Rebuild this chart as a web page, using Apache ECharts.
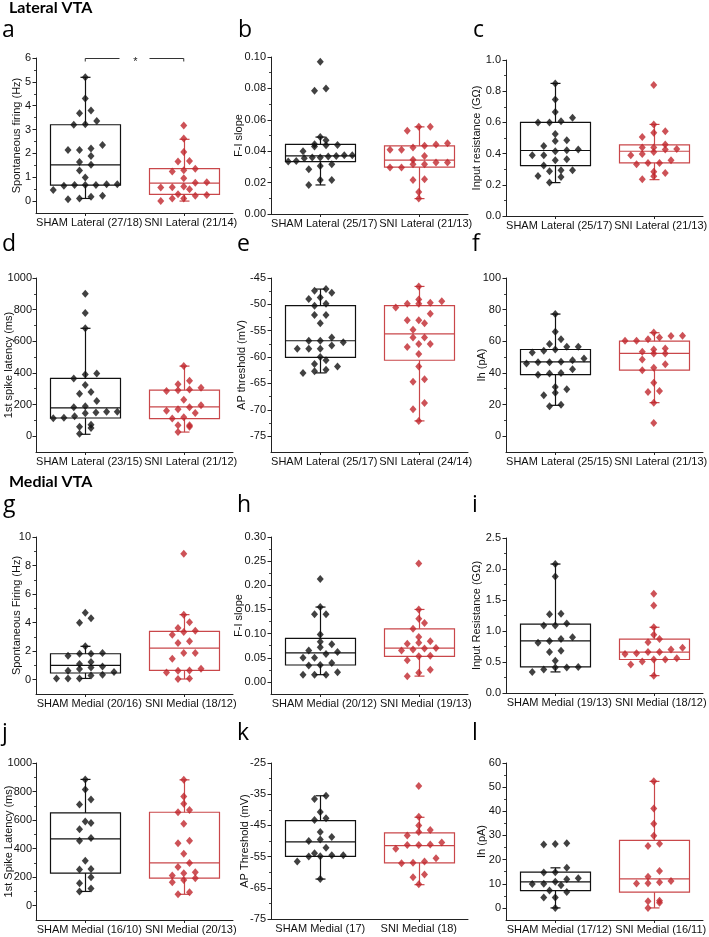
<!DOCTYPE html>
<html><head><meta charset="utf-8">
<script src="https://cdn.jsdelivr.net/npm/echarts@6/dist/echarts.min.js"></script>
<style>html,body{margin:0;padding:0;background:#fff}#c{width:709px;height:937px}</style>
</head><body><div id="c"></div>
<script>
// ---------------- DATA ----------------
const aCats = ['SHAM Lateral (27/18)', 'SNI Lateral (21/14)'];
const aTicks = [0, 1, 2, 3, 4, 5, 6];
const aSham = [5.19,4.30,3.80,3.68,3.36,3.22,3.20,2.35,2.14,2.14,2.20,1.89,1.64,1.52,1.28,0.99,0.67,0.71,0.67,0.71,0.67,0.64,0.22,0.46,0.18,0.08,0.11];
const aShamBox = [0.11, 0.67, 1.52, 3.20, 5.19];   // whisker low, Q1, median, Q3, whisker high
const aSni = [3.17,2.62,2.06,1.68,1.66,1.29,1.24,1.36,0.96,0.79,0.77,0.61,0.57,0.50,0.58,0.22,0.11,0.11,0.25,0.29,0.0];
const aSniBox = [0.0, 0.28, 0.75, 1.36, 2.59];
const aSig = [[0.5, 1.5, 6, '*']];

const bCats = ['SHAM Lateral (25/17)', 'SNI Lateral (21/13)'];
const bTicks = [0, 0.02, 0.04, 0.06, 0.08, 0.10];
const bSham = [0.097,0.080,0.0785,0.049,0.0438,0.0445,0.044,0.047,0.043,0.040,0.037,0.0374,0.036,0.0338,0.036,0.0355,0.0374,0.0366,0.0334,0.0317,0.0306,0.0285,0.0217,0.0217,0.0185];
const bShamBox = [0.0185, 0.0334, 0.037, 0.0443, 0.049];
const bSni = [0.0555,0.0555,0.053,0.045,0.0443,0.0423,0.0434,0.0409,0.0409,0.037,0.0345,0.0317,0.0328,0.0328,0.0317,0.0296,0.0296,0.0221,0.0217,0.014,0.0098];
const bSniBox = [0.0098, 0.0298, 0.0343, 0.0434, 0.0555];

const cCats = ['SHAM Lateral (25/17)', 'SNI Lateral (21/13)'];
const cTicks = [0, 0.2, 0.4, 0.6, 0.8, 1.0];
const cSham = [0.85,0.747,0.60,0.60,0.608,0.666,0.63,0.525,0.48,0.486,0.448,0.426,0.422,0.415,0.39,0.39,0.364,0.358,0.323,0.287,0.293,0.293,0.257,0.25,0.214];
const cShamBox = [0.214, 0.323, 0.42, 0.60, 0.85];
const cSni = [0.84,0.587,0.544,0.507,0.533,0.458,0.439,0.411,0.43,0.439,0.426,0.398,0.39,0.358,0.332,0.34,0.34,0.276,0.283,0.255,0.236];
const cSniBox = [0.233, 0.34, 0.415, 0.456, 0.587];

const dCats = ['SHAM Lateral (23/15)', 'SNI Lateral (21/12)'];
const dTicks = [0, 200, 400, 600, 800, 1000];
const dSham = [900,778,682,390,397,365,323,280,268,223,190,183,145,154,149,154,126,117,113,60,73,52,16];
const dShamBox = [12, 115, 179, 365, 682];
const dSni = [443,350,329,306,285,295,291,230,160,170,183,196,147,111,120,26,69,69,60];
const dSniBox = [26, 111, 185, 291, 443];

const eCats = ['SHAM Lateral (25/17)', 'SNI Lateral (24/14)'];
const eTicks = [-75, -70, -65, -60, -55, -50, -45];
const eSham = [-47.8,-47.4,-47.1,-48.7,-49.0,-49.9,-50.25,-52.0,-52.0,-53.6,-56.9,-56.3,-56.9,-57.2,-57.8,-58.4,-58.4,-58.4,-60.0,-60.6,-61.3,-61.8,-62.7,-62.4,-63.0];
const eShamBox = [-63.0, -60.06, -56.9, -50.25, -47.1];
const eSni = [-46.6,-49.4,-49.9,-49.1,-50.6,-49.7,-49.9,-51.8,-53.0,-53.0,-53.6,-54.8,-56.3,-56.3,-58.1,-57.5,-57.5,-59.4,-61.8,-64.7,-64.2,-68.7,-69.9,-72.1];
const eSniBox = [-72.1, -60.6, -55.6, -50.25, -46.6];

const fCats = ['SHAM Lateral (25/15)', 'SNI Lateral (21/13)'];
const fTicks = [0, 20, 40, 60, 80, 100];
const fSham = [77.2,66,58.2,61.2,54,56.5,54.8,56.5,49.1,52.9,46.8,46.8,45.9,47,48,42.3,38.9,40,39.6,29.6,27.5,31.1,25.8,19.9,19];
const fShamBox = [19.5, 38.9, 47, 54.8, 77.2];
const fSni = [61.2,63.5,60.3,62.4,65.6,60.3,63.3,53.3,54.8,52.3,55.4,52.3,48.5,45.5,43.2,41.7,33.7,27.9,28.6,21.2,8.3];
const fSniBox = [21.2, 41.7, 52.3, 60.1, 65.4];

const gCats = ['SHAM Medial (20/16)', 'SNI Medial (18/12)'];
const gTicks = [0, 2, 4, 6, 8, 10];
const gSham = [4.0,4.3,4.7,2.34,1.82,1.68,1.87,1.82,1.24,0.93,1.1,0.86,0.75,0.3,0.54,0.35,0.63,0.09,0.09,0.09];
const gShamBox = [0.09, 0.47, 1.0, 1.82, 2.34];
const gSni = [8.83,4.56,4.02,3.43,3.62,3.34,3.15,2.57,2.69,1.87,1.87,1.47,0.65,0.51,0.63,0.77,0.05,0.09];
const gSniBox = [0.05, 0.65, 2.22, 3.39, 4.56];

const hCats = ['SHAM Medial (20/12)', 'SNI Medial (19/13)'];
const hTicks = [0, 0.05, 0.10, 0.15, 0.20, 0.25, 0.30];
const hSham = [0.213,0.155,0.14,0.14,0.098,0.083,0.078,0.072,0.065,0.062,0.058,0.05,0.05,0.039,0.035,0.034,0.02,0.015,0.015,0.015];
const hShamBox = [0.015, 0.035, 0.06, 0.09, 0.155];
const hSni = [0.245,0.15,0.131,0.122,0.11,0.093,0.079,0.081,0.084,0.07,0.065,0.067,0.069,0.053,0.054,0.045,0.025,0.019,0.012];
const hSniBox = [0.012, 0.053, 0.07, 0.11, 0.15];

const iCats = ['SHAM Medial (19/13)', 'SNI Medial (18/12)'];
const iTicks = [0, 0.5, 1.0, 1.5, 2.0, 2.5];
const iSham = [2.08,1.88,1.28,1.27,1.12,1.09,1.09,0.9,0.87,0.84,0.81,0.68,0.66,0.52,0.42,0.41,0.41,0.38,0.34];
const iShamBox = [0.34, 0.42, 0.84, 1.11, 2.08];
const iSni = [1.6,1.41,1.06,0.94,0.87,0.82,0.73,0.7,0.66,0.66,0.64,0.63,0.56,0.54,0.54,0.51,0.46,0.28];
const iSniBox = [0.28, 0.54, 0.66, 0.87, 1.06];

const jCats = ['SHAM Medial (16/10)', 'SNI Medial (20/13)'];
const jTicks = [0, 200, 400, 600, 800, 1000];
const jSham = [885,815,745,710,590,580,535,475,455,315,258,253,200,158,120,100];
const jShamBox = [100, 228, 468, 650, 885];
const jSni = [882,765,715,670,655,575,455,438,365,300,272,235,228,212,193,180,165,95,80];
const jSniBox = [80, 193, 300, 655, 882];

const kCats = ['SHAM Medial (17)', 'SNI Medial (18)'];
const kTicks = [-75, -65, -55, -45, -35, -25];
const kSham = [-35.5,-36.5,-40.7,-42.7,-43.3,-47.1,-48.7,-49.5,-50,-52.2,-53.9,-54.6,-55,-54.9,-54.6,-56.6,-62.2];
const kShamBox = [-62.2, -54.9, -50.3, -43.5, -35.5];
const kSni = [-32.4,-42.2,-45,-46.5,-47.1,-48.2,-50.5,-51.1,-51.3,-51.3,-52.5,-55.5,-56.6,-57,-57.1,-60.7,-61.6,-63.9];
const kSniBox = [-64, -57, -51.5, -47.4, -42.4];

const lCats = ['SHAM Medial (17/12)', 'SNI Medial (16/11)'];
const lTicks = [0, 10, 20, 30, 40, 50, 60];
const lSham = [26.5,26.8,26.3,16.6,14.7,14.8,12.3,11.9,10.8,10,9.4,9.9,7.2,6.6,4.3,4.3,0];
const lShamBox = [0, 7.2, 10.8, 14.8, 16.6];
const lSni = [52.4,41.2,34.8,29.9,26.6,25.6,15.3,12.9,11.1,10.2,10.6,10.1,3,2.1,2.8,0];
const lSniBox = [0, 6.5, 12, 28, 52.4];

// ---------------- LAYOUT ----------------
const panels = [
  {cats:aCats, ticks:aTicks, sham:aSham, shamBox:aShamBox, sni:aSni, sniBox:aSniBox, dec:0, min:-0.5, max:6,   name:'Spontaneous firing (Hz)', g:[36,58,197,155],  gap:13.5, lm:5, ls:[4,7]},
  {cats:bCats, ticks:bTicks, sham:bSham, shamBox:bShamBox, sni:bSni, sniBox:bSniBox, dec:2, min:0, max:0.1,    name:'F-I slope',               g:[271,57,197,157], gap:27, lm:5, ls:[4,7]},
  {cats:cCats, ticks:cTicks, sham:cSham, shamBox:cShamBox, sni:cSni, sniBox:cSniBox, dec:1, min:0, max:1,      name:'Input resistance (G\u03A9)', g:[506,60,197,156], gap:23.5, lm:5, ls:[4,7]},
  {cats:dCats, ticks:dTicks, sham:dSham, shamBox:dShamBox, sni:dSni, sniBox:dSniBox, dec:0, min:-100, max:1000, name:'1st spike latency (ms)', g:[36,278,197,174], gap:21.5, lm:4, ls:[4,7]},
  {cats:eCats, ticks:eTicks, sham:eSham, shamBox:eShamBox, sni:eSni, sniBox:eSniBox, dec:0, min:-78, max:-45,  name:'AP threshold (mV)',       g:[271,278,197,174], gap:23.5, lm:5, ls:[4,7]},
  {cats:fCats, ticks:fTicks, sham:fSham, shamBox:fShamBox, sni:fSni, sniBox:fSniBox, dec:0, min:-10, max:100,  name:'Ih (pA)',                 g:[506,278,197,174], gap:18.5, lm:5, ls:[4,7]},
  {cats:gCats, ticks:gTicks, sham:gSham, shamBox:gShamBox, sni:gSni, sniBox:gSniBox, dec:0, min:-1, max:10,    name:'Spontaneous Firing (Hz)', g:[36,537,197,157], gap:13.5, lm:5, ls:[4,7]},
  {cats:hCats, ticks:hTicks, sham:hSham, shamBox:hShamBox, sni:hSni, sniBox:hSniBox, dec:2, min:-0.025, max:0.3, name:'F-I slope',             g:[271,537,197,157], gap:27, lm:5, ls:[4,7]},
  {cats:iCats, ticks:iTicks, sham:iSham, shamBox:iShamBox, sni:iSni, sniBox:iSniBox, dec:1, min:0, max:2.5,    name:'Input Resistance (G\u03A9)', g:[506,538,197,155], gap:23.5, lm:5, ls:[4,7]},
  {cats:jCats, ticks:jTicks, sham:jSham, shamBox:jShamBox, sni:jSni, sniBox:jSniBox, dec:0, min:-100, max:1000, name:'1st Spike Latency (ms)', g:[36,763,197,157], gap:21.5, lm:4, ls:[4,7]},
  {cats:kCats, ticks:kTicks, sham:kSham, shamBox:kShamBox, sni:kSni, sniBox:kSniBox, dec:0, min:-75, max:-25,  name:'AP Threshold (mV)',       g:[271,763,197,156], gap:20.5, lm:5, ls:[0,0]},
  {cats:lCats, ticks:lTicks, sham:lSham, shamBox:lShamBox, sni:lSni, sniBox:lSniBox, dec:0, min:-5, max:60,    name:'Ih (pA)',                 g:[506,763,197,157], gap:18.5, lm:5, ls:[4,7]}
];
const letters = [
  ['a',2,30],['b',238,30],['c',473,30],
  ['d',2,244],['e',237,244],['f',472,244],
  ['g',3,505],['h',237,505],['i',472,505],
  ['j',2,733],['k',237,733],['l',472,733]
];
const SHAM_C = '#111111', SNI_C = '#c1272d', SNI_BOX = '#c9474a';
const HALF_W_PX = 35, CAP_PX = 5, FONT = '"Liberation Sans", Arial, sans-serif';

// beeswarm-like row layout (Origin style "data overlap")
function spread(values, center, p) {
  const ph = p.g[3] / (p.max - p.min), upx = 2 / p.g[2];
  const idx = values.map((v, i) => i).sort((a, b) => values[a] - values[b]);
  const groups = []; let cur = [], start = 0;
  idx.forEach(i => {
    const py = values[i] * ph;
    if (cur.length && py - start > 6.5) { groups.push(cur); cur = []; }
    if (!cur.length) start = py;
    cur.push(i);
  });
  if (cur.length) groups.push(cur);
  const out = [];
  groups.forEach(gr => {
    const n = gr.length;
    const s = n > 1 ? Math.min(11.5, (2 * HALF_W_PX - 6) / (n - 1)) : 0;
    gr.forEach((i, k) => out.push([center + (k - (n - 1) / 2) * s * upx, values[i]]));
  });
  return out;
}

function boxRender(color) {
  return function (params, api) {
    const x = api.value(0);
    const lo = api.coord([x, api.value(1)]), q1 = api.coord([x, api.value(2)]);
    const md = api.coord([x, api.value(3)]), q3 = api.coord([x, api.value(4)]);
    const hi = api.coord([x, api.value(5)]);
    const cx = Math.round(md[0]) + 0.5;
    const hw = HALF_W_PX, cw = CAP_PX;
    const st = {stroke: color, lineWidth: 1.2, fill: null};
    return {type: 'group', children: [
      {type: 'rect', shape: {x: cx - hw, y: q3[1], width: 2 * hw, height: q1[1] - q3[1]}, style: {stroke: color, lineWidth: 1.2, fill: 'rgba(0,0,0,0)'}},
      {type: 'line', shape: {x1: cx - hw, y1: md[1], x2: cx + hw, y2: md[1]}, style: st},
      {type: 'line', shape: {x1: cx, y1: q3[1], x2: cx, y2: hi[1]}, style: st},
      {type: 'line', shape: {x1: cx, y1: q1[1], x2: cx, y2: lo[1]}, style: st},
      {type: 'line', shape: {x1: cx - cw, y1: hi[1], x2: cx + cw, y2: hi[1]}, style: st},
      {type: 'line', shape: {x1: cx - cw, y1: lo[1], x2: cx + cw, y2: lo[1]}, style: st}
    ]};
  };
}

const option = {animation: false, textStyle: {fontFamily: FONT}, grid: [], xAxis: [], yAxis: [], series: [], graphic: []};

panels.forEach((p, i) => {
  const upx = 2 / p.g[2];
  const labPos = [0.5 + p.ls[0] * upx, 1.5 + p.ls[1] * upx];
  option.grid.push({left: p.g[0], top: p.g[1], width: p.g[2], height: p.g[3], containLabel: false, outerBoundsMode: 'none'});
  option.xAxis.push({
    gridIndex: i, type: 'value', min: 0, max: 2,
    axisLine: {show: true, onZero: false, lineStyle: {color: '#222', width: 1}},
    axisTick: {show: true, customValues: [0.5, 1.5], length: 3, lineStyle: {color: '#222'}},
    axisLabel: {customValues: labPos, formatter: v => p.cats[v < 1 ? 0 : 1], margin: 4, fontSize: 11, color: '#111', fontFamily: FONT, hideOverlap: false, showMinLabel: true, showMaxLabel: true},
    splitLine: {show: false}
  });
  const minors = [];
  for (let k = 0; k < p.ticks.length - 1; k++) minors.push((p.ticks[k] + p.ticks[k + 1]) / 2);
  option.yAxis.push({
    gridIndex: i, type: 'value', position: 'left', min: p.min, max: p.max,
    name: p.name, nameLocation: 'middle', nameGap: p.gap, nameMoveOverlap: false,
    nameTextStyle: {fontSize: 11, color: '#111', fontFamily: FONT},
    axisLine: {show: true, onZero: false, lineStyle: {color: '#222', width: 1}},
    axisTick: {show: true, customValues: p.ticks, length: 3.5, lineStyle: {color: '#222'}},
    axisLabel: {customValues: p.ticks, formatter: v => v.toFixed(p.dec), margin: p.lm, fontSize: 11, color: '#111', fontFamily: FONT, hideOverlap: false},
    splitLine: {show: false}
  });
  option.yAxis.push({
    gridIndex: i, type: 'value', position: 'left', min: p.min, max: p.max,
    axisLine: {show: false}, axisLabel: {show: false}, splitLine: {show: false},
    axisTick: {show: true, customValues: minors, length: 2, lineStyle: {color: '#444'}}
  });
  const yi = 2 * i;
  option.series.push({
    type: 'custom', xAxisIndex: i, yAxisIndex: yi, z: 2, clip: false,
    renderItem: boxRender(SHAM_C), encode: {x: 0, y: [1, 2, 3, 4, 5]},
    data: [[0.5].concat(p.shamBox)]
  });
  option.series.push({
    type: 'custom', xAxisIndex: i, yAxisIndex: yi, z: 2, clip: false,
    renderItem: boxRender(SNI_BOX), encode: {x: 0, y: [1, 2, 3, 4, 5]},
    data: [[1.5].concat(p.sniBox)]
  });
  option.series.push({
    type: 'scatter', xAxisIndex: i, yAxisIndex: yi, z: 3, symbol: 'diamond', symbolSize: [7, 8],
    itemStyle: {color: SHAM_C}, data: spread(p.sham, 0.5, p), silent: true
  });
  option.series.push({
    type: 'scatter', xAxisIndex: i, yAxisIndex: yi, z: 3, symbol: 'diamond', symbolSize: [7, 8],
    itemStyle: {color: SNI_C}, data: spread(p.sni, 1.5, p), silent: true
  });
});

// significance bracket on panel a
option.series.push({
  type: 'custom', xAxisIndex: 0, yAxisIndex: 0, z: 4, clip: false,
  encode: {x: [0, 1], y: 2}, data: aSig,
  renderItem: function (params, api) {
    const p1 = api.coord([api.value(0), api.value(2)]), p2 = api.coord([api.value(1), api.value(2)]);
    const y = Math.round(p1[1]) + 0.5, mid = (p1[0] + p2[0]) / 2;
    const st = {stroke: '#333', lineWidth: 1, fill: null};
    return {type: 'group', children: [
      {type: 'polyline', shape: {points: [[p1[0], y + 3], [p1[0], y], [mid - 15, y]]}, style: st},
      {type: 'polyline', shape: {points: [[mid + 15, y], [p2[0], y], [p2[0], y + 3]]}, style: st},
      {type: 'text', style: {text: api.value(3), x: mid + 1, y: y + 3, textAlign: 'center', textVerticalAlign: 'middle', fontSize: 11, fill: '#222', fontFamily: FONT}}
    ]};
  }
});

option.graphic.push({type: 'text', x: 9, y: 8, style: {text: 'Lateral VTA', font: 'bold 16px Lato', fill: '#000', textVerticalAlign: 'middle'}});
option.graphic.push({type: 'text', x: 9, y: 482, style: {text: 'Medial VTA', font: 'bold 16px Lato', fill: '#000', textVerticalAlign: 'middle'}});
letters.forEach(l => option.graphic.push({type: 'text', x: l[1], y: l[2], style: {text: l[0], font: '23px "Open Sans"', fill: '#000', textVerticalAlign: 'middle'}}));

const chart = echarts.init(document.getElementById('c'), null, {renderer: 'canvas'});
chart.setOption(option);
</script>
</body></html>
